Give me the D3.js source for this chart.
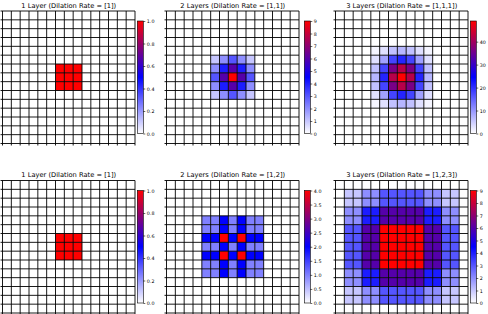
<!DOCTYPE html>
<html>
<head>
<meta charset="utf-8">
<script src="https://cdn.jsdelivr.net/npm/d3@7"></script>
<style>
  body { margin: 0; background: #fff; }
  svg { display: block; }
  .title { font-family: "DejaVu Sans", sans-serif; font-size: 6.7px; fill: #000; }
  .cbar text { font-family: "DejaVu Sans", sans-serif; font-size: 4.8px; fill: #000; }
</style>
</head>
<body>
<svg id="chart" width="488" height="314"></svg>
<script>
// receptive field counts (non-zero patch, centred on a 15x15 grid)
var gridSize = 15;

var titles = [
  "1 Layer (Dilation Rate = [1])",
  "2 Layers (Dilation Rate = [1,1])",
  "3 Layers (Dilation Rate = [1,1,1])",
  "1 Layer (Dilation Rate = [1])",
  "2 Layers (Dilation Rate = [1,2])",
  "3 Layers (Dilation Rate = [1,2,3])"
];

var patch1 = [
  [1,1,1],
  [1,1,1],
  [1,1,1]
];

var patch11 = [
  [1,2,3,2,1],
  [2,4,6,4,2],
  [3,6,9,6,3],
  [2,4,6,4,2],
  [1,2,3,2,1]
];

var patch111 = [
  [1, 3, 6, 7, 6, 3,1],
  [3, 9,18,21,18, 9,3],
  [6,18,36,42,36,18,6],
  [7,21,42,49,42,21,7],
  [6,18,36,42,36,18,6],
  [3, 9,18,21,18, 9,3],
  [1, 3, 6, 7, 6, 3,1]
];

var patch12 = [
  [1,1,2,1,2,1,1],
  [1,1,2,1,2,1,1],
  [2,2,4,2,4,2,2],
  [1,1,2,1,2,1,1],
  [2,2,4,2,4,2,2],
  [1,1,2,1,2,1,1],
  [1,1,2,1,2,1,1]
];

var patch123 = [
  [1,1,2,2,3,3,3,3,3,2,2,1,1],
  [1,1,2,2,3,3,3,3,3,2,2,1,1],
  [2,2,4,4,6,6,6,6,6,4,4,2,2],
  [2,2,4,4,6,6,6,6,6,4,4,2,2],
  [3,3,6,6,9,9,9,9,9,6,6,3,3],
  [3,3,6,6,9,9,9,9,9,6,6,3,3],
  [3,3,6,6,9,9,9,9,9,6,6,3,3],
  [3,3,6,6,9,9,9,9,9,6,6,3,3],
  [3,3,6,6,9,9,9,9,9,6,6,3,3],
  [2,2,4,4,6,6,6,6,6,4,4,2,2],
  [2,2,4,4,6,6,6,6,6,4,4,2,2],
  [1,1,2,2,3,3,3,3,3,2,2,1,1],
  [1,1,2,2,3,3,3,3,3,2,2,1,1]
];

var patches = [patch1, patch11, patch111, patch1, patch12, patch123];

var cbarTicks = [
  [0, 0.2, 0.4, 0.6, 0.8, 1.0],
  [0,1,2,3,4,5,6,7,8,9],
  [0,10,20,30,40],
  [0, 0.2, 0.4, 0.6, 0.8, 1.0],
  [0,0.5,1,1.5,2,2.5,3,3.5,4],
  [0,1,2,3,4,5,6,7,8,9]
];
var cbarFormats = [".1f", "d", "d", ".1f", ".1f", "d"];

// layout
var colX = [2.5, 166.5, 335.5];
var cbarX = [137.3, 304.3, 470.3];
var rowY = [11, 180.5];
var gw = 132.5, cbarW = 6, cbarH = 112.5;

var svg = d3.select("#chart");
var defs = svg.append("defs");

patches.forEach(function(patch, i) {
  var col = i % 3, row = Math.floor(i / 3);
  var gx = colX[col], gy = rowY[row];
  var vmax = d3.max(patch, function(r) { return d3.max(r); });
  var offset = (gridSize - patch.length) / 2;

  var color = d3.scaleLinear()
      .domain([0, vmax / 2, vmax])
      .range(["#ffffff", "#0000ff", "#ff0000"]);

  var x = d3.scaleBand().domain(d3.range(gridSize)).range([gx, gx + gw]);
  var y = d3.scaleBand().domain(d3.range(gridSize)).range([gy, gy + gw]);

  var g = svg.append("g");

  var cells = [];
  patch.forEach(function(r, ri) {
    r.forEach(function(v, ci) {
      cells.push({ r: ri + offset, c: ci + offset, v: v });
    });
  });

  g.selectAll("rect.cell")
    .data(cells)
    .enter().append("rect")
      .attr("class", "cell")
      .attr("x", function(d) { return x(d.c); })
      .attr("y", function(d) { return y(d.r); })
      .attr("width", x.bandwidth())
      .attr("height", y.bandwidth())
      .attr("fill", function(d) { return color(d.v); });

  // grid lines at every cell edge
  var edges = d3.range(gridSize + 1).map(function(k) { return gx + k * x.bandwidth(); });
  var edgesY = d3.range(gridSize + 1).map(function(k) { return gy + k * y.bandwidth(); });

  g.selectAll("line.v")
    .data(edges)
    .enter().append("line")
      .attr("x1", function(d) { return d; })
      .attr("x2", function(d) { return d; })
      .attr("y1", gy)
      .attr("y2", gy + gw + 2)
      .attr("stroke", "#000")
      .attr("stroke-width", 0.9);

  g.selectAll("line.h")
    .data(edgesY)
    .enter().append("line")
      .attr("x1", gx - 2)
      .attr("x2", gx + gw)
      .attr("y1", function(d) { return d; })
      .attr("y2", function(d) { return d; })
      .attr("stroke", "#000")
      .attr("stroke-width", 0.9);

  svg.append("text")
    .attr("class", "title")
    .attr("x", gx + gw / 2)
    .attr("y", gy - 3.5)
    .attr("text-anchor", "middle")
    .text(titles[i]);

  // colorbar
  var cx = cbarX[col], cy = gy + (gw - cbarH) / 2;
  var gradId = "grad" + i;
  var grad = defs.append("linearGradient")
      .attr("id", gradId)
      .attr("x1", "0").attr("y1", "1").attr("x2", "0").attr("y2", "0");
  [0, 0.5, 1].forEach(function(t) {
    grad.append("stop")
      .attr("offset", t)
      .attr("stop-color", color(t * vmax));
  });

  svg.append("rect")
    .attr("x", cx).attr("y", cy)
    .attr("width", cbarW).attr("height", cbarH)
    .attr("fill", "url(#" + gradId + ")")
    .attr("stroke", "#000")
    .attr("stroke-width", 0.6);

  var cs = d3.scaleLinear().domain([0, vmax]).range([cy + cbarH, cy]);
  var axis = svg.append("g")
    .attr("class", "cbar")
    .attr("transform", "translate(" + (cx + cbarW) + ",0)")
    .call(d3.axisRight(cs)
      .tickValues(cbarTicks[i])
      .tickFormat(d3.format(cbarFormats[i]))
      .tickSize(2)
      .tickPadding(1.5));
  axis.select(".domain").remove();
  axis.selectAll(".tick line").attr("stroke-width", 0.6);
});
</script>
</body>
</html>
